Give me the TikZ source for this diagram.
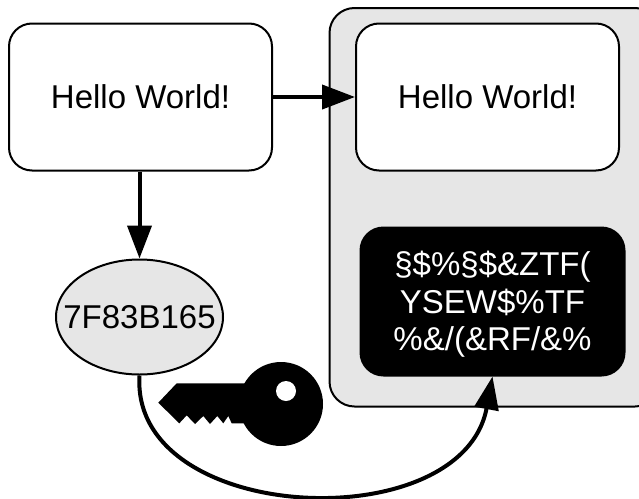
\documentclass[tikz,border=0pt]{standalone}
\usepackage{fontspec}
\setmainfont{Liberation Sans}
\usetikzlibrary{arrows.meta,shapes.geometric}
\definecolor{panel}{RGB}{230,230,230}
\tikzset{
 px/.style={x=1pt,y=-1pt},
 bigtext/.style={font=\fontsize{33}{37.5}\selectfont},
 boxbase/.style={draw,line width=2pt,rounded corners=23pt,inner sep=0pt,bigtext},
 msg/.style={boxbase,fill=white,minimum width=263pt,minimum height=147pt},
 conn/.style={line width=4pt,-{Triangle[length=33pt,width=24pt]}}
}
\begin{document}
\begin{tikzpicture}[px]
\useasboundingbox (0,0) rectangle (639,498);
\fill[white] (0,0) rectangle (639,498);
\draw[line width=2pt,fill=panel,rounded corners=25pt] (329.5,8) rectangle (660,406.5);
\node[msg] (plain) at (140.5,97) {Hello World!};
\node[msg] (copy) at (487.5,97) {Hello World!};
\node[boxbase,fill=black,text=white,minimum width=264pt,minimum height=148pt,align=center] (cipher) at (492.5,301.5) {\rule{0pt}{30pt}§\$\%§\$\&ZTF(\\YSEW\$\%TF\\\%\&/(\&RF/\&\%};
\node[draw,line width=2pt,fill=panel,ellipse,minimum width=167pt,minimum height=115pt,inner sep=0pt,bigtext] (hash) at (139.5,317) {\makebox[0pt]{7F83B165}};
\draw[conn] (plain.east) -- (copy.west);
\draw[conn] (plain.south -| hash.north) -- (hash.north);
\coordinate (keyc) at (281,404);
\fill (keyc) circle (42);
\fill[white] (286,391) circle (10);
\fill[line join=round] (158.3,402.7) -- (176.7,383.3) -- (250,383.3) -- (250,423.3) -- (231.7,423.3) -- (228.3,416) -- (223.3,423.3) -- (217.3,416) -- (210,424) -- (203.3,416) -- (195,424) -- (186.7,415.3) -- (179.3,423.3) -- cycle;
\draw[conn] (hash.south) .. controls (130,525) and (462,540) .. (cipher.south);
\end{tikzpicture}
\end{document}
